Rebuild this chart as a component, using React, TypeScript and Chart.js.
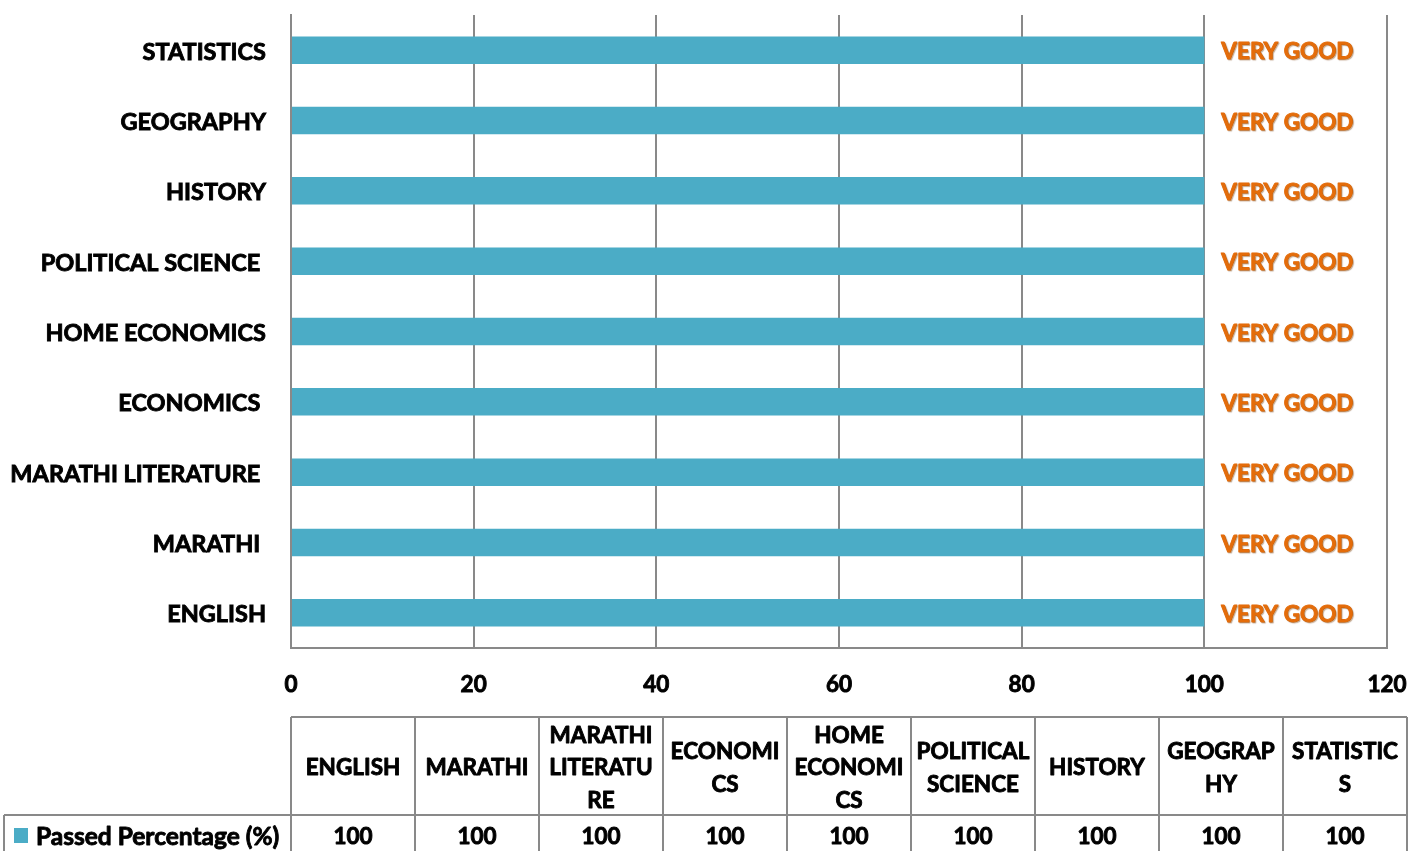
import { useEffect, useRef } from 'react';
import { Chart, registerables } from 'chart.js';

Chart.register(...registerables);

const categories = [
  'ENGLISH',
  'MARATHI ',
  'MARATHI LITERATURE ',
  'ECONOMICS ',
  'HOME ECONOMICS',
  'POLITICAL SCIENCE ',
  'HISTORY',
  'GEOGRAPHY',
  'STATISTICS',
];
const passedPercentage = [100, 100, 100, 100, 100, 100, 100, 100, 100];
const ratings = ['VERY GOOD', 'VERY GOOD', 'VERY GOOD', 'VERY GOOD', 'VERY GOOD', 'VERY GOOD', 'VERY GOOD', 'VERY GOOD', 'VERY GOOD'];
const tableHeaders = [
  ['ENGLISH'],
  ['MARATHI'],
  ['MARATHI', 'LITERATU', 'RE'],
  ['ECONOMI', 'CS'],
  ['HOME', 'ECONOMI', 'CS'],
  ['POLITICAL', 'SCIENCE'],
  ['HISTORY'],
  ['GEOGRAP', 'HY'],
  ['STATISTIC', 'S'],
];
const seriesName = 'Passed Percentage (%)';
const xMin = 0;
const xMax = 120;
const xStep = 20;

const FONT = "Lato, 'Open Sans', sans-serif";
const WEIGHT = 'bold';
const STROKE = 0.9;
const BAR = '#4BACC6';
const GRID = '#898989';
const ORANGE = '#E46C0A';
const W = 1411;
const H = 851;

function boldText(ctx: any, text: string, x: number, y: number, color: string) {
  ctx.fillStyle = color;
  ctx.strokeStyle = color;
  ctx.lineWidth = STROKE;
  ctx.lineJoin = 'round';
  ctx.strokeText(text, x, y);
  ctx.fillText(text, x, y);
}

const labelPlugin = {
  id: 'ratingLabels',
  afterDatasetsDraw(chart: any) {
    const ctx = chart.ctx;
    const meta = chart.getDatasetMeta(0);
    ctx.save();
    ctx.font = `${WEIGHT} 22.5px ${FONT}`;
    ctx.textAlign = 'left';
    ctx.textBaseline = 'middle';
    meta.data.forEach((bar: any, i: number) => {
      ctx.shadowColor = 'rgba(120,60,0,0.35)';
      ctx.shadowOffsetX = 1;
      ctx.shadowOffsetY = 1;
      ctx.shadowBlur = 1;
      boldText(ctx, ratings[i], bar.x + 17, bar.y + 2, ORANGE);
    });
    ctx.restore();
  },
};

const tablePlugin = {
  id: 'dataTable',
  afterDraw(chart: any) {
    const ctx = chart.ctx;
    const left = chart.chartArea.left;
    const right = W - 4;
    const top = 717;
    const mid = 815;
    const bottom = H + 10;
    const n = tableHeaders.length;
    const cw = (right - left) / n;
    ctx.save();
    ctx.strokeStyle = GRID;
    ctx.lineWidth = 2;
    ctx.beginPath();
    ctx.moveTo(left, top);
    ctx.lineTo(right, top);
    ctx.moveTo(4, mid);
    ctx.lineTo(right, mid);
    ctx.moveTo(4, mid);
    ctx.lineTo(4, bottom);
    for (let i = 0; i <= n; i++) {
      const x = left + i * cw;
      ctx.moveTo(x, top);
      ctx.lineTo(x, bottom);
    }
    ctx.stroke();

    ctx.font = `${WEIGHT} 22.5px ${FONT}`;
    ctx.textAlign = 'center';
    ctx.textBaseline = 'middle';
    const lh = 32.5;
    tableHeaders.forEach((lines, i) => {
      const cx = left + (i + 0.5) * cw;
      const cy = (top + mid) / 2 + 2;
      const y0 = cy - ((lines.length - 1) * lh) / 2;
      lines.forEach((t, j) => boldText(ctx, t, cx, y0 + j * lh, '#000'));
      boldText(ctx, String(passedPercentage[i]), cx, 837, '#000');
    });

    ctx.fillStyle = BAR;
    ctx.fillRect(14, 828, 14, 15);
    ctx.textAlign = 'left';
    ctx.font = `${WEIGHT} 24.5px ${FONT}`;
    boldText(ctx, seriesName, 36, 837, '#000');
    ctx.restore();
  },
};

export default function App() {
  const ref = useRef<HTMLCanvasElement>(null);
  useEffect(() => {
    if (!ref.current) return;
    const chart = new Chart(ref.current, {
      type: 'bar',
      data: {
        labels: categories,
        datasets: [
          {
            label: seriesName,
            data: passedPercentage,
            backgroundColor: BAR,
            categoryPercentage: 1,
            barPercentage: 0.39,
          },
        ],
      },
      options: {
        indexAxis: 'y',
        responsive: false,
        animation: false,
        layout: { padding: { left: 0, right: 24, top: 15, bottom: 0 } },
        plugins: {
          legend: { display: false },
          tooltip: { enabled: false },
        },
        scales: {
          x: {
            min: xMin,
            max: xMax,
            ticks: {
              stepSize: xStep,
              color: '#000',
              padding: 23,
              textStrokeColor: '#000',
              textStrokeWidth: STROKE,
              font: { family: FONT, size: 22.5, weight: WEIGHT },
            },
            grid: { color: GRID, lineWidth: 2, drawTicks: false },
            border: { display: true, color: GRID, width: 2 },
            afterFit: (s: any) => {
              s.height = H - 648;
              s.paddingLeft = 0;
              s.paddingRight = 0;
              s.paddingTop = 0;
              s.paddingBottom = 0;
            },
          },
          y: {
            reverse: true,
            ticks: {
              color: '#000',
              padding: 25,
              labelOffset: 2,
              textStrokeColor: '#000',
              textStrokeWidth: STROKE,
              font: { family: FONT, size: 23.5, weight: WEIGHT },
            },
            grid: { display: false, drawTicks: false },
            border: { display: true, color: GRID, width: 2 },
            afterFit: (s: any) => {
              s.width = 291;
              s.paddingLeft = 0;
              s.paddingRight = 0;
              s.paddingTop = 0;
              s.paddingBottom = 0;
            },
          },
        },
      },
      plugins: [labelPlugin, tablePlugin],
    } as any);
    return () => chart.destroy();
  }, []);
  return (
    <div style={{ position: 'fixed', left: 0, top: 0, width: W, height: H, background: '#fff' }}>
      <canvas ref={ref} width={W} height={H} style={{ display: 'block', width: W, height: H }} />
    </div>
  );
}
